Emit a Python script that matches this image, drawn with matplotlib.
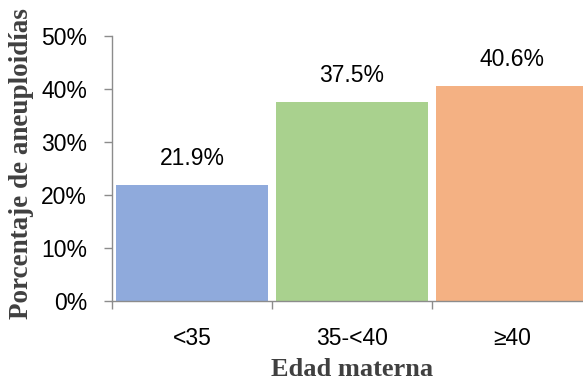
import matplotlib
matplotlib.use("Agg")
import matplotlib.pyplot as plt
from matplotlib.ticker import FuncFormatter, FixedLocator

categories = ["<35", "35-<40", "≥40"]
values = [21.9, 37.5, 40.6]
bar_colors = ["#8FAADC", "#A9D18E", "#F4B183"]
y_ticks = [0, 10, 20, 30, 40, 50]

fig = plt.figure(figsize=(5.83, 3.81), dpi=100)
ax = fig.add_axes([112 / 583, 80 / 381, 480 / 583, 265 / 381])

x = list(range(len(categories)))
ax.bar(x, values, width=0.955, color=bar_colors, zorder=2)

for xi, v in zip(x, values):
    ax.annotate(f"{v:.1f}%", (xi, v), xytext=(0, 11), textcoords="offset points",
                ha="center", va="bottom", fontsize=16.5,
                family="Liberation Sans", color="black")

ax.set_xlim(-0.5, 2.5)
ax.set_ylim(0, 50)
ax.set_yticks(y_ticks)
ax.yaxis.set_major_formatter(FuncFormatter(lambda v, p: f"{v:.0f}%"))

# category labels centred, tick marks on the category boundaries
ax.xaxis.set_major_locator(FixedLocator([-0.5, 0.5, 1.5, 2.5]))
ax.xaxis.set_major_formatter(FuncFormatter(lambda v, p: ""))
ax.xaxis.set_minor_locator(FixedLocator(x))
ax.set_xticklabels(categories, minor=True)
ax.tick_params(axis="x", which="minor", length=0, pad=19)
ax.tick_params(axis="x", which="major", length=6, width=1, color="#8C8C8C")
ax.tick_params(axis="y", length=6, width=1, color="#8C8C8C", pad=12)

for lbl in ax.get_xticklabels(minor=True) + ax.get_yticklabels():
    lbl.set_fontfamily("Liberation Sans")
    lbl.set_fontsize(16.5)
    lbl.set_color("black")

for side in ["top", "right"]:
    ax.spines[side].set_visible(False)
for side in ["left", "bottom"]:
    ax.spines[side].set_color("#8C8C8C")
    ax.spines[side].set_linewidth(1)

fig.text(352 / 583, 1 - 370 / 381, "Edad materna", ha="center", va="center",
         fontsize=19, fontweight="bold", family="Liberation Serif", color="#404040")
fig.text(22 / 583, 1 - 164 / 381, "Porcentaje de aneuploidías", ha="center", va="center",
         rotation=90, fontsize=19.5, fontweight="bold", family="Liberation Serif",
         color="#404040")

fig.savefig("out.png", dpi=100)
